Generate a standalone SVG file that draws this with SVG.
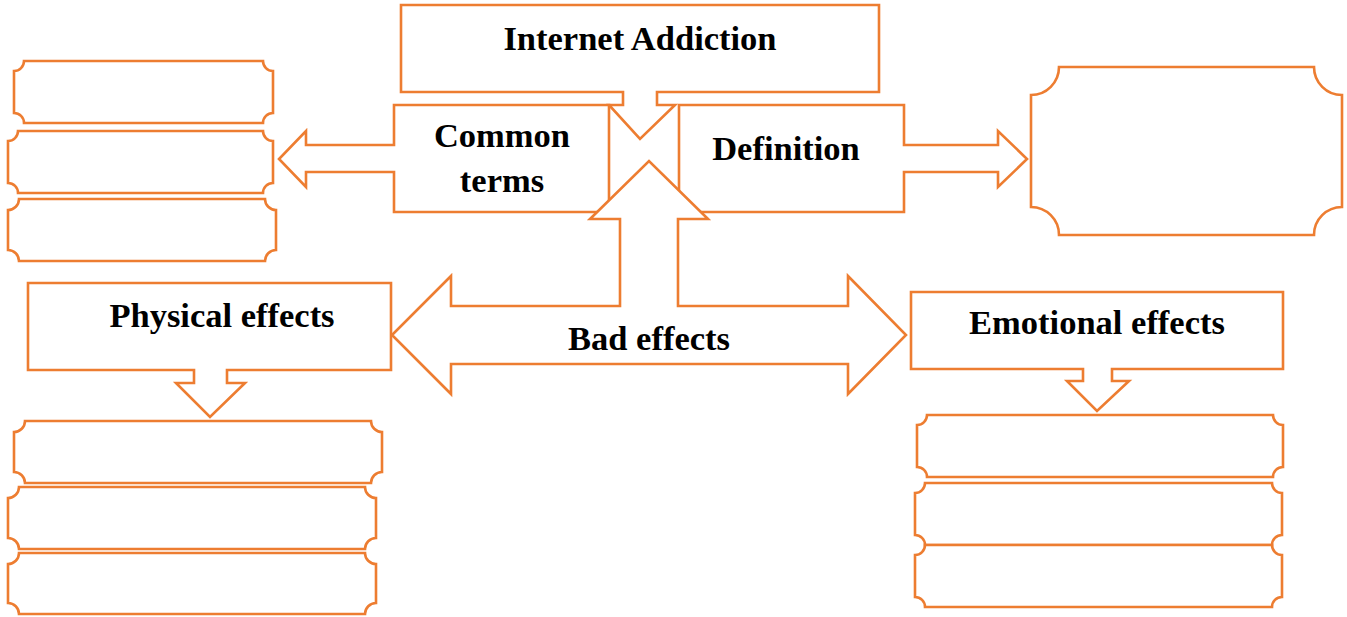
<svg xmlns="http://www.w3.org/2000/svg" width="1347" height="617" viewBox="0 0 1347 617">
  <style>
    .s { fill: #FFFFFF; stroke: #ED7D31; stroke-width: 2.6; stroke-linejoin: miter; }
    .t { font-family: "Liberation Serif", "Times New Roman", serif; font-weight: bold; font-size: 34.5px; fill: #000000; text-anchor: middle; }
  </style>
  <rect x="0" y="0" width="1347" height="617" fill="#FFFFFF"/>

  <g id="internet-addiction">
    <path class="s" d="M401,5 H879 V92 H657 V105 H675 L640,139 L609,105 H623 V92 H401 Z"/>
    <text class="t" x="640" y="50">Internet Addiction</text>
  </g>

  <g id="common-terms">
    <path class="s" d="M394,105 H609 V212 H394 V172 H306 V187 L279,159 L306,131 V145 H394 Z"/>
    <text class="t" x="502" y="147">Common</text>
    <text class="t" x="502" y="192">terms</text>
  </g>

  <g id="definition">
    <path class="s" d="M679,105 H904 V145 H998 V131 L1027,159 L998,187 V172 H904 V212 H679 Z"/>
    <text class="t" x="786" y="160">Definition</text>
  </g>

  <g id="definition-box">
    <path class="s" d="M1059,67 H1314 A28 28 0 0 0 1342,95 V207 A28 28 0 0 0 1314,235 H1059 A28 28 0 0 0 1031,207 V95 A28 28 0 0 0 1059,67 Z"/>
  </g>

  <g id="terms-1">
    <path class="s" d="M24,61 H263 A10 10 0 0 0 273,71 V113 A10 10 0 0 0 263,123 H24 A10 10 0 0 0 14,113 V71 A10 10 0 0 0 24,61 Z"/>
  </g>
  <g id="terms-2">
    <path class="s" d="M18,131 H263 A10 10 0 0 0 273,141 V183 A10 10 0 0 0 263,193 H18 A10 10 0 0 0 8,183 V141 A10 10 0 0 0 18,131 Z"/>
  </g>
  <g id="terms-3">
    <path class="s" d="M19,199 H265 A11 11 0 0 0 276,210 V250 A11 11 0 0 0 265,261 H19 A11 11 0 0 0 8,250 V210 A11 11 0 0 0 19,199 Z"/>
  </g>

  <g id="physical-effects">
    <path class="s" d="M28,283 H391 V370 H227 V383 H245 L210,417 L176,383 H194 V370 H28 Z"/>
    <text class="t" x="222" y="327">Physical effects</text>
  </g>

  <g id="physical-1">
    <path class="s" d="M25,421 H371 A11 11 0 0 0 382,432 V472 A11 11 0 0 0 371,483 H25 A11 11 0 0 0 14,472 V432 A11 11 0 0 0 25,421 Z"/>
  </g>
  <g id="physical-2">
    <path class="s" d="M19,487 H365 A11 11 0 0 0 376,498 V538 A11 11 0 0 0 365,549 H19 A11 11 0 0 0 8,538 V498 A11 11 0 0 0 19,487 Z"/>
  </g>
  <g id="physical-3">
    <path class="s" d="M19,553 H365 A11 11 0 0 0 376,564 V603 A11 11 0 0 0 365,614 H19 A11 11 0 0 0 8,603 V564 A11 11 0 0 0 19,553 Z"/>
  </g>

  <g id="emotional-effects">
    <path class="s" d="M911,292 H1283 V369 H1112 V381 H1129 L1097,411 L1067,381 H1083 V369 H911 Z"/>
    <text class="t" x="1097" y="334">Emotional effects</text>
  </g>

  <g id="emotional-1">
    <path class="s" d="M927,415 H1273 A10 10 0 0 0 1283,425 V467 A10 10 0 0 0 1273,477 H927 A10 10 0 0 0 917,467 V425 A10 10 0 0 0 927,415 Z"/>
  </g>
  <g id="emotional-2">
    <path class="s" d="M925,483 H1272 A10 10 0 0 0 1282,493 V535 A10 10 0 0 0 1272,545 H925 A10 10 0 0 0 915,535 V493 A10 10 0 0 0 925,483 Z"/>
  </g>
  <g id="emotional-3">
    <path class="s" d="M925,545 H1272 A10 10 0 0 0 1282,555 V597 A10 10 0 0 0 1272,607 H925 A10 10 0 0 0 915,597 V555 A10 10 0 0 0 925,545 Z"/>
  </g>

  <g id="bad-effects">
    <path class="s" d="M620,306 V219 H590 L649,161 L708,219 H678 V306 H848 V276 L906,335 L848,394 V364 H451 V394 L392,335 L451,276 V306 Z"/>
    <text class="t" x="649" y="350">Bad effects</text>
  </g>
</svg>
